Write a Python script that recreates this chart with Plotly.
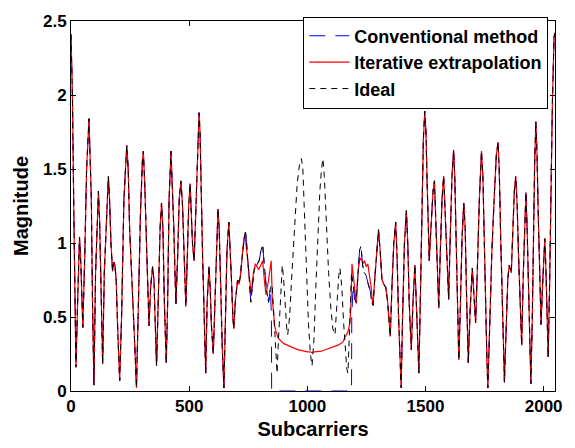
import plotly.graph_objects as go

# ---- Ideal channel magnitude ----
ideal_x = [0, 6, 12, 17, 21, 28, 36, 42, 47, 50, 58, 66, 76, 81, 86, 91, 97, 104, 111, 116,
           121, 127, 134, 141, 151, 158, 163, 169, 176, 182, 186, 191, 198, 206, 214, 224, 236, 242, 248, 254,
           262, 270, 277, 285, 294, 302, 306, 312, 320, 326, 330, 337, 345, 351, 357, 362, 369, 377, 383, 389,
           395, 403, 409, 415, 423, 429, 435, 440, 444, 451, 458, 465, 472, 477, 482, 486, 492, 498, 504, 509,
           514, 521, 528, 534, 539, 542, 546, 551, 557, 562, 570, 576, 584, 589, 594, 602, 609, 615, 622, 627,
           633, 640, 647, 653, 660, 668, 673, 679, 685, 689, 695, 705, 711, 717, 725, 732, 738, 743, 751, 756,
           761, 768, 776, 786, 796, 804, 811, 818, 826, 836, 844, 851, 858, 866, 872, 878, 886, 894, 900, 906,
           913, 917, 925, 935, 947, 957, 967, 975, 981, 989, 997, 1005, 1013, 1020, 1028, 1036, 1044, 1053, 1060, 1066,
           1072, 1080, 1090, 1100, 1108, 1117, 1125, 1133, 1138, 1146, 1154, 1161, 1167, 1172, 1177, 1182, 1187, 1194, 1201, 1207,
           1214, 1221, 1227, 1234, 1241, 1249, 1258, 1266, 1272, 1278, 1285, 1294, 1301, 1308, 1316, 1324, 1332, 1340, 1346, 1351,
           1358, 1366, 1374, 1380, 1386, 1391, 1397, 1403, 1411, 1419, 1425, 1431, 1436, 1440, 1447, 1455, 1461, 1466, 1472, 1478,
           1485, 1491, 1497, 1502, 1507, 1511, 1516, 1523, 1532, 1538, 1544, 1550, 1556, 1562, 1570, 1577, 1583, 1590, 1598, 1604,
           1612, 1619, 1624, 1630, 1636, 1641, 1648, 1655, 1662, 1668, 1673, 1677, 1681, 1689, 1698, 1705, 1712, 1719, 1728, 1737,
           1743, 1749, 1755, 1760, 1764, 1771, 1781, 1792, 1800, 1807, 1812, 1818, 1824, 1829, 1834, 1842, 1848, 1854, 1860, 1863,
           1870, 1876, 1882, 1888, 1894, 1900, 1907, 1914, 1920, 1925, 1930, 1935, 1941, 1946, 1952, 1957, 1962, 1967, 1972, 1977,
           1983, 1989, 1995, 2001, 2005, 2010, 2015, 2019, 2025, 2031, 2037, 2044, 2047]
ideal_y = [2.41, 2.0, 1.2, 0.5, 0.16, 0.6, 1.04, 0.85, 0.6, 0.43, 0.9, 1.5, 1.84, 1.6, 1.3, 0.6, 0.04, 0.8, 1.2, 1.35,
           1.15, 0.6, 0.18, 0.8, 1.2, 1.45, 1.3, 1.0, 0.81, 0.87, 0.85, 0.75, 0.4, 0.07, 0.5, 1.3, 1.66, 1.5, 1.1, 0.9,
           0.6, 0.3, 0.02, 0.6, 1.2, 1.55, 1.62, 1.4, 1.0, 0.7, 0.44, 0.7, 0.84, 0.75, 0.45, 0.17, 0.6, 1.1, 1.27, 1.1,
           0.6, 0.19, 0.6, 1.3, 1.62, 1.4, 1.1, 0.8, 0.59, 0.9, 1.3, 1.42, 1.25, 1.0, 0.7, 0.57, 0.9, 1.25, 1.40, 1.2,
           1.0, 0.88, 1.2, 1.6, 1.82, 1.88, 1.75, 1.3, 0.9, 0.6, 0.12, 0.6, 0.84, 0.7, 0.45, 0.25, 0.6, 1.0, 1.23, 1.1,
           0.7, 0.3, 0.02, 0.5, 0.95, 1.14, 1.0, 0.75, 0.5, 0.42, 0.6, 0.75, 0.72, 0.78, 0.92, 1.04, 1.09, 1.0, 0.8, 0.65,
           0.6, 0.72, 0.82, 0.85, 0.88, 0.95, 0.99, 0.85, 0.7, 0.6, 0.7, 0.72, 0.5, 0.25, 0.12, 0.35, 0.65, 0.85, 0.75, 0.55,
           0.42, 0.38, 0.5, 0.8, 1.15, 1.4, 1.53, 1.57, 1.5, 1.2, 0.8, 0.45, 0.25, 0.17, 0.35, 0.7, 1.05, 1.35, 1.5, 1.57,
           1.45, 1.15, 0.8, 0.55, 0.42, 0.38, 0.6, 0.78, 0.83, 0.7, 0.45, 0.25, 0.15, 0.12, 0.35, 0.6, 0.8, 0.72, 0.62, 0.6,
           0.8, 0.95, 0.98, 0.85, 0.8, 0.78, 0.72, 0.68, 0.6, 0.58, 0.75, 0.98, 1.09, 0.95, 0.75, 0.72, 0.70, 0.6, 0.45, 0.37,
           0.7, 1.0, 1.14, 0.9, 0.5, 0.2, 0.02, 0.5, 1.0, 1.22, 1.0, 0.6, 0.35, 0.28, 0.6, 0.85, 0.6, 0.3, 0.12, 0.6,
           1.3, 1.7, 1.89, 1.75, 1.4, 1.1, 0.88, 1.1, 1.35, 1.42, 1.1, 0.75, 0.56, 0.9, 1.3, 1.45, 1.2, 0.85, 0.62, 1.0,
           1.45, 1.63, 1.45, 1.0, 0.5, 0.21, 0.6, 1.05, 1.27, 1.1, 0.7, 0.4, 0.19, 0.55, 0.83, 0.65, 0.46, 0.8, 1.3, 1.62,
           1.45, 1.0, 0.5, 0.2, 0.02, 0.4, 0.95, 1.35, 1.6, 1.68, 1.5, 1.05, 0.6, 0.25, 0.06, 0.45, 0.75, 0.85, 0.8, 0.8,
           1.1, 1.35, 1.45, 1.25, 0.9, 0.55, 0.31, 0.8, 1.15, 1.34, 1.1, 0.7, 0.3, 0.05, 0.5, 1.1, 1.55, 1.82, 1.6, 1.2,
           0.8, 0.45, 0.7, 0.95, 1.03, 0.8, 0.45, 0.23, 0.7, 1.4, 1.95, 2.39, 2.42]

# ---- Conventional method: zero inside the null band ----
conv_gap_x = [848, 849, 1187, 1188]
conv_gap_y = [0.5, 0.0, 0.0, 0.5]

# ---- Iterative extrapolation: differs from ideal in the band ----
iter_band_x = [738, 750, 762, 772, 780, 788, 794, 803, 811, 818, 825, 836, 847, 852, 857, 862, 866, 871, 876, 881,
               886, 893, 900, 908, 915, 922, 930, 940, 950, 960, 970, 980, 990, 1000, 1010, 1020, 1030, 1040, 1050, 1060,
               1070, 1080, 1090, 1100, 1110, 1120, 1130, 1140, 1150, 1158, 1165, 1172, 1179, 1184, 1189, 1195, 1200, 1207, 1214, 1221,
               1228, 1235, 1242, 1249, 1256, 1263, 1270, 1277]
iter_band_y = [1.03, 0.82, 0.66, 0.8, 0.86, 0.84, 0.82, 0.85, 0.88, 0.75, 0.65, 0.75, 0.88, 0.62, 0.5, 0.44, 0.41, 0.38, 0.36, 0.35,
               0.34, 0.33, 0.32, 0.315, 0.31, 0.30, 0.295, 0.29, 0.285, 0.28, 0.275, 0.27, 0.27, 0.265, 0.265, 0.26, 0.265, 0.265, 0.27, 0.27,
               0.275, 0.28, 0.285, 0.29, 0.295, 0.30, 0.31, 0.32, 0.33, 0.36, 0.38, 0.40, 0.45, 0.55, 0.86, 0.75, 0.70, 0.59, 0.80, 0.88,
               0.90, 0.86, 0.88, 0.84, 0.86, 0.78, 0.70, 0.58]

x_ticks = [0, 500, 1000, 1500, 2000]
y_ticks = [0, 0.5, 1, 1.5, 2, 2.5]
y_tick_text = ["0", "0.5", "1", "1.5", "2", "2.5"]

# build conventional series
conv_x, conv_y = [], []
for xv, yv in zip(ideal_x, ideal_y):
    if xv < conv_gap_x[0]:
        conv_x.append(xv); conv_y.append(yv)
conv_x += conv_gap_x; conv_y += conv_gap_y
for xv, yv in zip(ideal_x, ideal_y):
    if xv > conv_gap_x[-1]:
        conv_x.append(xv); conv_y.append(yv)

# build iterative series
iter_x, iter_y = [], []
for xv, yv in zip(ideal_x, ideal_y):
    if xv < iter_band_x[0]:
        iter_x.append(xv); iter_y.append(yv)
iter_x += iter_band_x; iter_y += iter_band_y
for xv, yv in zip(ideal_x, ideal_y):
    if xv > iter_band_x[-1]:
        iter_x.append(xv); iter_y.append(yv)

FONT = "Arial, Liberation Sans, sans-serif"

fig = go.Figure()
fig.add_trace(go.Scatter(x=conv_x, y=conv_y, mode="lines", name="Conventional method",
                         line=dict(color="#0000ff", width=1, dash="16px,10px")))
fig.add_trace(go.Scatter(x=iter_x, y=iter_y, mode="lines", name="Iterative extrapolation",
                         line=dict(color="#ff0000", width=1.2)))
fig.add_trace(go.Scatter(x=ideal_x, y=ideal_y, mode="lines", name="Ideal",
                         line=dict(color="#000000", width=1, dash="6px,5px")))

axis_common = dict(showline=True, linecolor="black", linewidth=1, mirror="ticks",
                   ticks="inside", ticklen=5, tickcolor="black", showgrid=False, zeroline=False,
                   tickfont=dict(family=FONT, size=17, color="black", weight="bold"))

fig.update_xaxes(range=[0, 2048], tickvals=x_ticks,
                 title=dict(text="Subcarriers", font=dict(family=FONT, size=20, color="black", weight="bold"),
                            standoff=6),
                 **axis_common)
fig.update_yaxes(range=[0, 2.5], tickvals=y_ticks, ticktext=y_tick_text,
                 title=dict(text="Magnitude", font=dict(family=FONT, size=20, color="black", weight="bold"),
                            standoff=8),
                 **axis_common)

fig.update_layout(
    width=575, height=448,
    margin=dict(l=71, r=17, t=14, b=50),
    plot_bgcolor="white", paper_bgcolor="white",
    showlegend=True,
    legend=dict(x=0.48, y=1.012, xanchor="left", yanchor="top",
                bgcolor="white", bordercolor="black", borderwidth=1,
                font=dict(family=FONT, size=18, color="black", weight="bold"),
                tracegroupgap=0, itemwidth=40),
)

fig.write_html("out.html")
